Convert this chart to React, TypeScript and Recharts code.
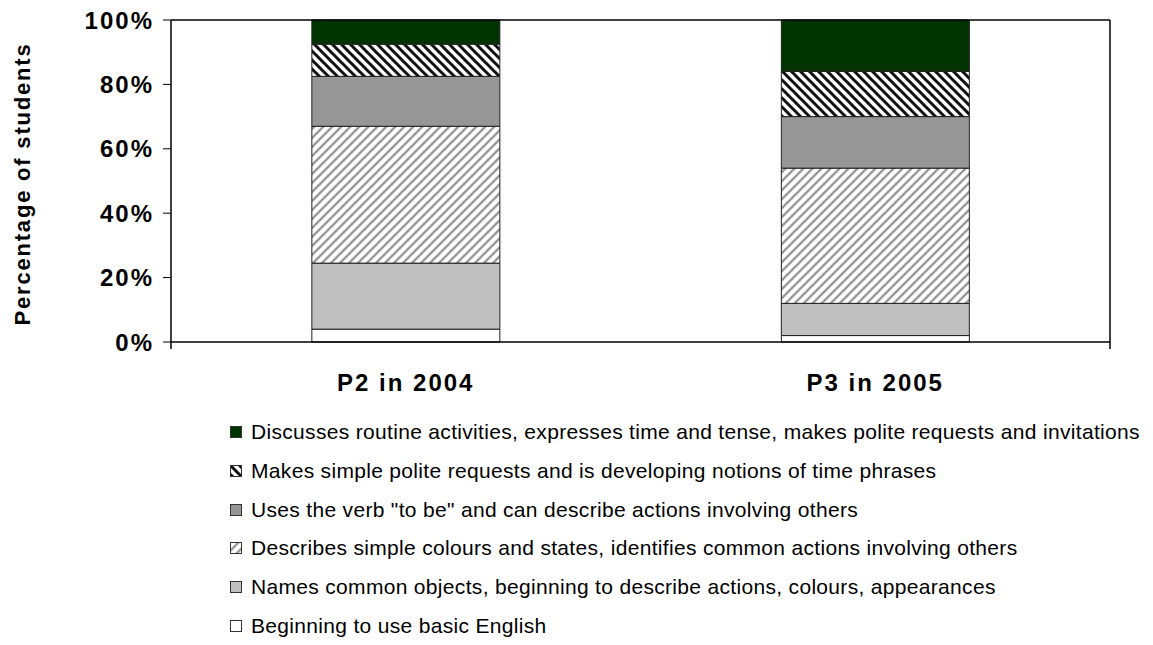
import React from 'react';
import { BarChart, Bar, XAxis, YAxis, ReferenceLine } from 'recharts';

// data
const groups = ['P2 in 2004', 'P3 in 2005'];
const basicEnglish = [4, 2];
const namesObjects = [20.5, 10];
const describesColours = [42.5, 42];
const verbToBe = [15.5, 16];
const politeRequests = [10, 14];
const discussesRoutine = [7.5, 16];
const yTicks = [0, 20, 40, 60, 80, 100];
const categoryEdges = [0, 1, 2];

const series = [
  { key: 'basic', name: 'Beginning to use basic English', values: basicEnglish, fill: '#FFFFFF' },
  { key: 'names', name: 'Names common objects, beginning to describe actions, colours, appearances', values: namesObjects, fill: '#C0C0C0' },
  { key: 'colours', name: 'Describes simple colours and states, identifies common actions involving others', values: describesColours, fill: 'url(#hatchLight)' },
  { key: 'tobe', name: 'Uses the verb "to be" and can describe actions involving others', values: verbToBe, fill: '#969696' },
  { key: 'polite', name: 'Makes simple polite requests and is developing notions of time phrases', values: politeRequests, fill: 'url(#hatchDark)' },
  { key: 'routine', name: 'Discusses routine activities, expresses time and tense, makes polite requests and invitations', values: discussesRoutine, fill: '#003300' },
];

const data = groups.map((g, i) => {
  const row: Record<string, any> = { group: g };
  series.forEach(s => { row[s.key] = s.values[i]; });
  return row;
});

const FONT = 'Arial, "Liberation Sans", sans-serif';

function XTick({ x, y, payload }: any) {
  return (
    <text x={x} y={y} dy={47} textAnchor="middle" fontFamily={FONT} fontWeight="bold" fontSize={24} letterSpacing={2} fill="#000">
      {payload.value}
    </text>
  );
}

function YTick({ x, y, payload }: any) {
  return (
    <text x={x} y={y} dy="0.36em" textAnchor="end" fontFamily={FONT} fontWeight="bold" fontSize={24} letterSpacing={2} fill="#000">
      {payload.value}%
    </text>
  );
}

function YLabel({ viewBox }: any) {
  const cx = (viewBox?.x ?? 0) + 22;
  const cy = (viewBox?.y ?? 0) + (viewBox?.height ?? 0) / 2 + 3;
  return (
    <text x={cx} y={cy} transform={`rotate(-90, ${cx}, ${cy})`} textAnchor="middle" dominantBaseline="central"
      fontFamily={FONT} fontWeight="bold" fontSize={22} letterSpacing={1.8} fill="#000">
      Percentage of students
    </text>
  );
}

function LegendBox() {
  const items = [...series].reverse();
  return (
    <div style={{ position: 'absolute', left: 230, top: 413, fontFamily: FONT, fontSize: 21, letterSpacing: 0.32, color: '#000' }}>
      {items.map(s => (
        <div key={s.key} style={{ height: 38.7, display: 'flex', alignItems: 'center', whiteSpace: 'nowrap' }}>
          <svg width={12} height={12} style={{ marginRight: 9 }}>
            <rect x={0.5} y={0.5} width={11} height={11} fill={s.fill} stroke="#333" strokeWidth={1} />
          </svg>
          <span>{s.name}</span>
        </div>
      ))}
    </div>
  );
}

export default function App() {
  return (
    <div style={{ position: 'absolute', left: 0, top: 0, width: 1153, height: 645, background: '#fff' }}>
      <BarChart
        width={1153}
        height={645}
        data={data}
        margin={{ top: 19, right: 42, bottom: 0, left: 0 }}
        barCategoryGap="30%"
      >
        <defs>
          <pattern id="hatchLight" patternUnits="userSpaceOnUse" width={9} height={9}>
            <rect width={9} height={9} fill="#fff" />
            <path d="M-2,2 l4,-4 M0,9 l9,-9 M7,11 l4,-4" stroke="#9a9a9a" strokeWidth={2.4} />
          </pattern>
          <pattern id="hatchDark" patternUnits="userSpaceOnUse" width={9} height={9}>
            <rect width={9} height={9} fill="#fff" />
            <path d="M-2,7 l4,4 M0,0 l9,9 M7,-2 l4,4" stroke="#111" strokeWidth={3} />
          </pattern>
        </defs>
        {/* hidden numeric axis, only used to place tick marks between the categories */}
        <XAxis xAxisId="edges" type="number" domain={[0, 2]} ticks={categoryEdges} hide />
        <XAxis
          xAxisId="cats"
          dataKey="group"
          height={303}
          tick={<XTick />}
          tickLine={false}
          tickSize={0}
          axisLine={{ stroke: '#000', strokeWidth: 1.5 }}
        />
        <XAxis
          xAxisId="top"
          dataKey="group"
          orientation="top"
          height={1}
          tick={false}
          tickLine={false}
          axisLine={{ stroke: '#000', strokeWidth: 1.5 }}
        />
        <YAxis
          domain={[0, 100]}
          ticks={yTicks}
          width={171}
          tick={<YTick />}
          tickSize={8}
          tickMargin={9}
          tickLine={{ stroke: '#000' }}
          axisLine={{ stroke: '#000', strokeWidth: 1.5 }}
          label={<YLabel />}
        />
        <YAxis
          yAxisId="right"
          orientation="right"
          domain={[0, 100]}
          width={1}
          tick={false}
          tickLine={false}
          axisLine={{ stroke: '#000', strokeWidth: 1.5 }}
        />
        {series.map(s => (
          <Bar
            key={s.key}
            xAxisId="cats"
            dataKey={s.key}
            name={s.name}
            stackId="a"
            fill={s.fill}
            stroke="#222"
            strokeWidth={1}
            isAnimationActive={false}
          />
        ))}
        {categoryEdges.map(e => (
          <ReferenceLine
            key={e}
            xAxisId="edges"
            segment={[{ x: e, y: 0 }, { x: e, y: -2.2 }]}
            ifOverflow="visible"
            stroke="#000"
            strokeWidth={1.5}
          />
        ))}
      </BarChart>
      <LegendBox />
    </div>
  );
}
